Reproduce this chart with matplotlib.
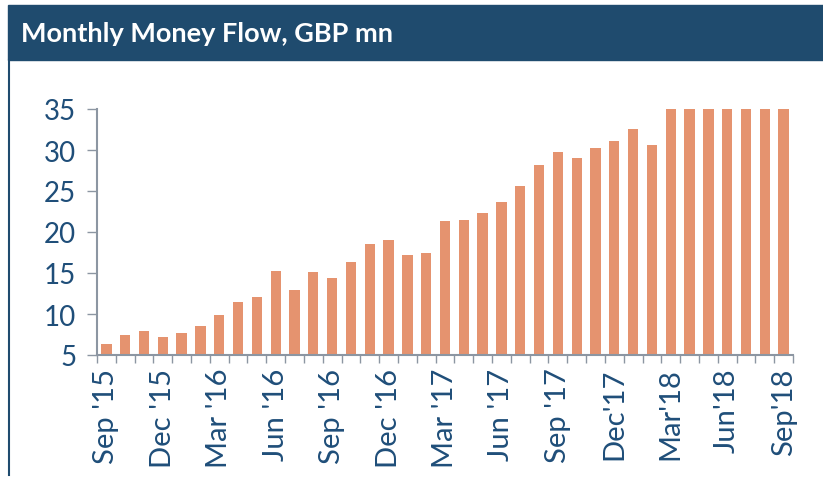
import numpy as np
import matplotlib
matplotlib.use("Agg")
import matplotlib.pyplot as plt
from matplotlib.patches import Rectangle
from matplotlib.lines import Line2D

# monthly flow, Sep 2015 .. Sep 2018 (values capped at 35 on the chart)
months = ["Sep '15", "Oct '15", "Nov '15", "Dec '15", "Jan '16", "Feb '16",
          "Mar '16", "Apr '16", "May '16", "Jun '16", "Jul '16", "Aug '16",
          "Sep '16", "Oct '16", "Nov '16", "Dec '16", "Jan '17", "Feb '17",
          "Mar '17", "Apr '17", "May '17", "Jun '17", "Jul '17", "Aug '17",
          "Sep '17", "Oct '17", "Nov '17", "Dec'17", "Jan'18", "Feb'18",
          "Mar'18", "Apr'18", "May'18", "Jun'18", "Jul'18", "Aug'18", "Sep'18"]
flow = [6.3, 7.4, 7.9, 7.2, 7.7, 8.5,
        9.9, 11.5, 12.1, 15.3, 12.9, 15.1,
        14.4, 16.3, 18.5, 19.0, 17.2, 17.4,
        21.3, 21.5, 22.3, 23.6, 25.6, 28.2,
        29.8, 29.0, 30.3, 31.1, 32.6, 30.6,
        35, 35, 35, 35, 35, 35, 35]
label_every = 3

navy = "#1F4B6E"
text_blue = "#1F4E79"
bar_col = "#E5936F"
axis_grey = "#8C96A2"

plt.rcParams["font.family"] = ["Lato", "DejaVu Sans"]

fig = plt.figure(figsize=(8.23, 4.81), dpi=100)

# header band and left border
fig.patches.append(Rectangle((8 / 823, 1 - 61 / 481), 1, 55 / 481,
                             transform=fig.transFigure, color=navy, zorder=0))
fig.lines.append(Line2D([9 / 823, 9 / 823], [1 - 61 / 481, 1 - 476 / 481],
                        transform=fig.transFigure, color=navy, lw=1.5))
fig.text(21 / 823, 1 - 34 / 481, "Monthly Money Flow, GBP mn", color="white",
         fontsize=19.5, fontweight="bold", va="center", ha="left")

ax = fig.add_axes([97 / 823, 1 - 356 / 481, 696 / 823, 246 / 481])
x = np.arange(len(flow))
ax.bar(x, flow, width=0.55, color=bar_col, bottom=0)

ax.set_xlim(-0.5, len(flow) - 0.5)
ax.set_ylim(5, 35)
ax.set_yticks(range(5, 36, 5))
ax.tick_params(axis="y", direction="out", length=7, width=1, color=axis_grey,
               labelsize=20, labelcolor=text_blue, pad=8)

ax.set_xticks(x[::label_every])
ax.set_xticklabels(months[::label_every], rotation=90)
ax.set_xticks(np.arange(-0.5, len(flow), 1), minor=True)
ax.tick_params(axis="x", which="major", length=0, labelsize=21,
               labelcolor=text_blue, pad=9)
ax.tick_params(axis="x", which="minor", direction="out", length=6, width=1,
               color=axis_grey)

for side in ["top", "right"]:
    ax.spines[side].set_visible(False)
for side in ["left", "bottom"]:
    ax.spines[side].set_color(axis_grey)
    ax.spines[side].set_linewidth(1.5)

fig.savefig("out.png", dpi=100)
